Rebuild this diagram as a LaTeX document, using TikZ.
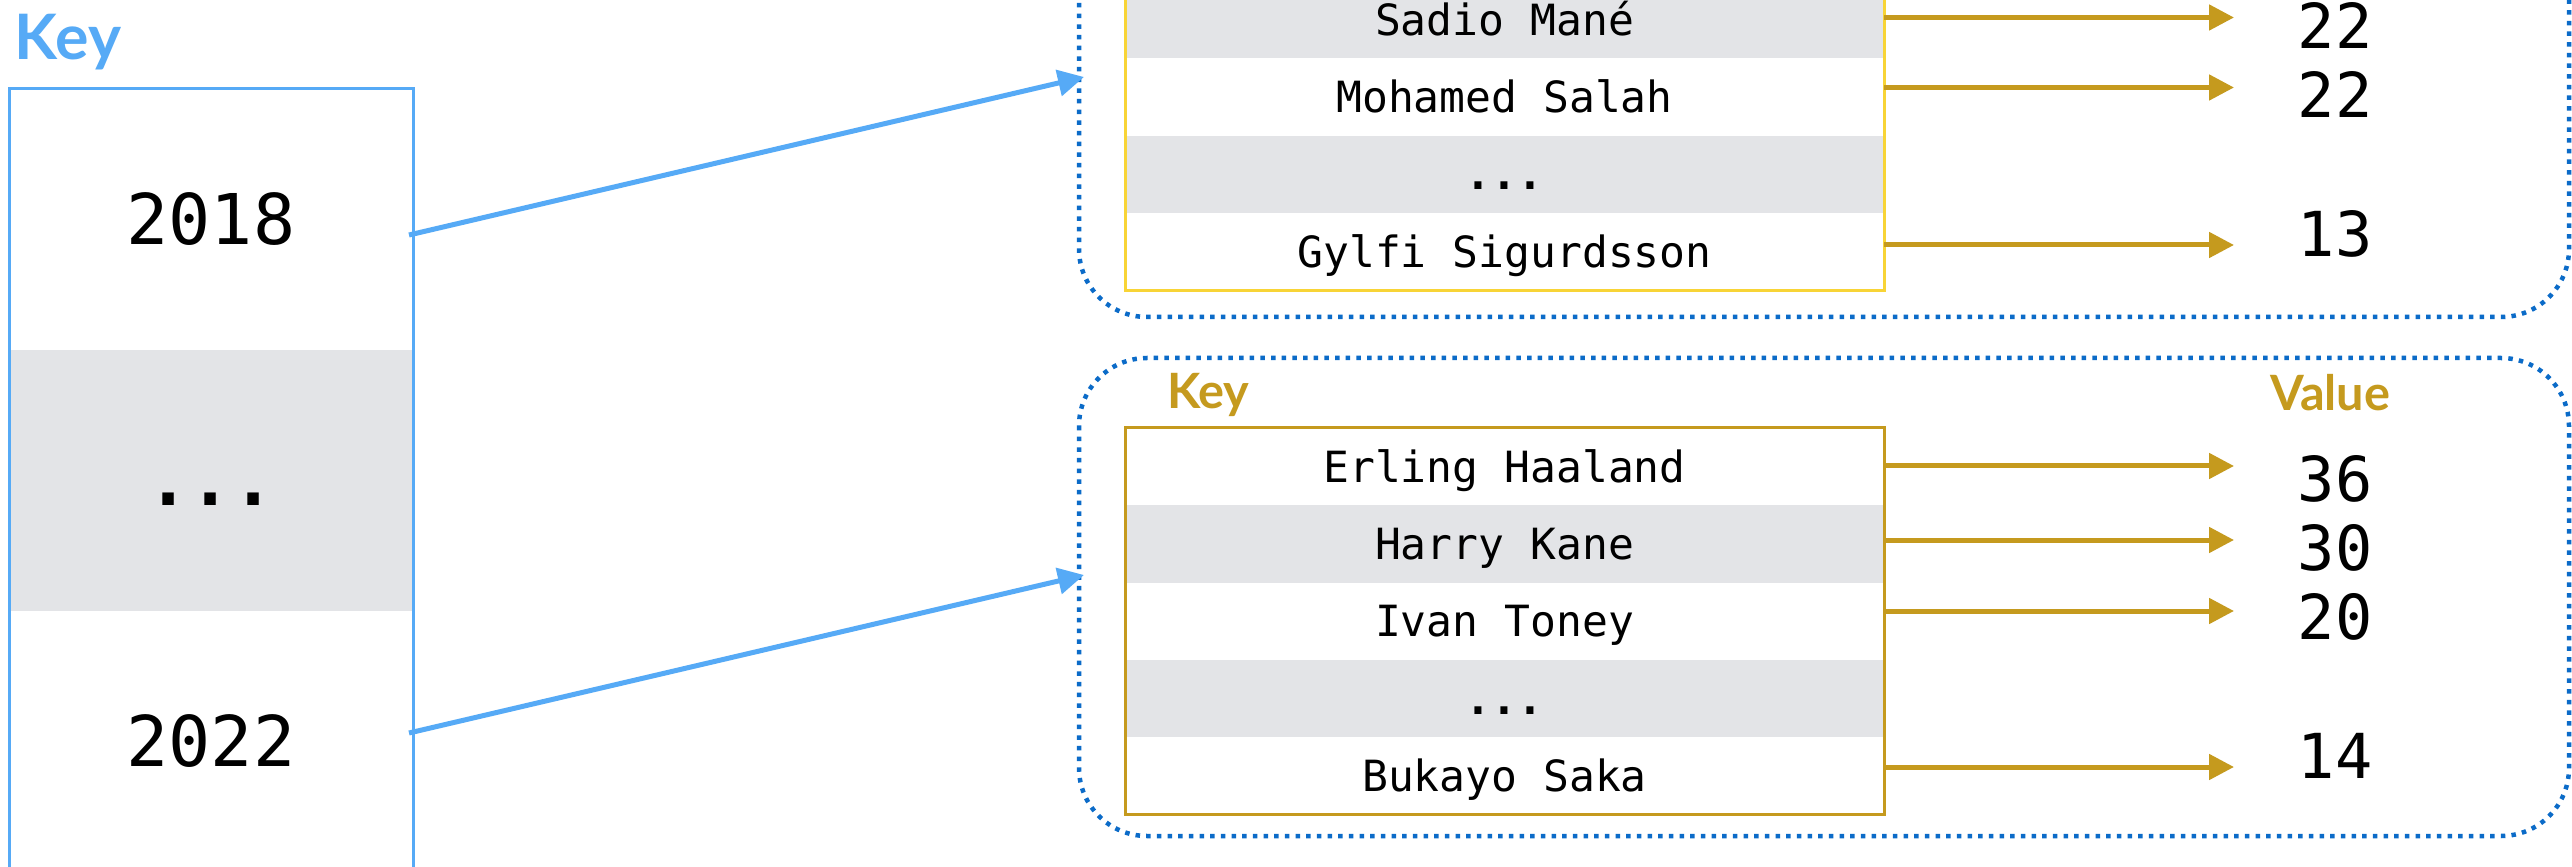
\documentclass[tikz,border=0pt]{standalone}
\usepackage{fontspec}
\setmonofont{DejaVu Sans Mono}
\newfontfamily\lato{Lato}
\usetikzlibrary{positioning,arrows.meta}
\definecolor{keyblue}{HTML}{56AAF6}
\definecolor{mapblue}{HTML}{0B6BC8}
\definecolor{gold}{HTML}{C59A1E}
\definecolor{lightgold}{HTML}{F8D436}
\definecolor{rowgray}{HTML}{E3E4E7}

\begin{document}
\begin{tikzpicture}[y=0.3pt, x=0.3pt, yscale=-1, inner sep=0pt, outer sep=0pt,
  yearcell/.style={minimum width=121.2pt, minimum height=78.3pt,
    font=\ttfamily\fontsize{21}{25}\selectfont, text height=15.3pt, text depth=0pt},
  namecell/.style={minimum width=227.7pt, minimum height=23.2pt,
    font=\ttfamily\fontsize{12.9}{15}\selectfont, text height=9.4pt, text depth=0pt},
  valnum/.style={font=\ttfamily\fontsize{18.6}{22}\selectfont},
  goldtitle/.style={anchor=base west, font=\lato\bfseries\fontsize{14.6}{17}\selectfont, text=gold},
  goldarrow/.style={draw=gold, line width=1.5pt, -{Triangle[length=7.5pt,width=7.5pt]}},
  keyarrow/.style={draw=keyblue, line width=1.5pt, -{Triangle[length=7.8pt,width=7.8pt]}},
  mapbox/.style={draw=mapblue, line width=1.35pt, dash pattern=on 1.35pt off 1.85pt,
    rounded corners=20.4pt}]
\useasboundingbox (0,0) rectangle (2572,867);
\fill[white] (0,0) rectangle (2572,867);
\clip (0,0) rectangle (2572,867);

% outer map: year -> inner map
\node[anchor=base west, font=\lato\bfseries\fontsize{18.8}{22}\selectfont, text=keyblue]
  (keytitle) at (15,60) {Key};
\node[yearcell, fill=white] (y18) at (211,219.5) {2018};
\node[yearcell, fill=rowgray, below=0pt of y18] (ydots) {\bfseries ...};
\node[yearcell, fill=white, below=0pt of ydots] (y22) {2022};
\path[draw=keyblue, line width=0.9pt] (y18.north west) rectangle (y22.south east);

% 2018 map
\path[mapbox] (1079,-161) rectangle (2569,317);
\node[namecell, fill=rowgray] (mane) at (1504.5,19.6) {Sadio Mané};
\node[namecell, fill=white, below=0pt of mane] (salah) {Mohamed Salah};
\node[namecell, fill=rowgray, below=0pt of salah] (dots18) {\bfseries ...};
\node[namecell, fill=white, below=0pt of dots18] (gylfi) {Gylfi Sigurdsson};
\path[draw=lightgold, line width=0.9pt] (mane.north west) rectangle (gylfi.south east);
\node[valnum] (v22a) at (2335,25.5) {22};
\node[valnum] (v22b) at (2335,94.5) {22};
\node[valnum] (v13) at (2335,233.5) {13};
\coordinate (t1) at (2234,17.5);
\coordinate (t2) at (2234,87.5);
\coordinate (t3) at (2234,245);
\path[goldarrow] (mane.east |- t1) -- (t1);
\path[goldarrow] (salah.east |- t2) -- (t2);
\path[goldarrow] (gylfi.east |- t3) -- (t3);

% 2022 map
\path[mapbox] (1079,358) rectangle (2569,836);
\node[goldtitle] (ktitle) at (1167,409) {Key};
\node[goldtitle] (vtitle) at (2270,411) {Value};
\node[namecell, fill=white] (haaland) at (1504.5,466.6) {Erling Haaland};
\node[namecell, fill=rowgray, below=0pt of haaland] (kane) {Harry Kane};
\node[namecell, fill=white, below=0pt of kane] (toney) {Ivan Toney};
\node[namecell, fill=rowgray, below=0pt of toney] (dots22) {\bfseries ...};
\node[namecell, fill=white, below=0pt of dots22] (saka) {Bukayo Saka};
\path[draw=gold, line width=0.9pt] (haaland.north west) rectangle (saka.south east);
\node[valnum] (v36) at (2335,478.5) {36};
\node[valnum] (v30) at (2335,547.5) {30};
\node[valnum] (v20) at (2335,617) {20};
\node[valnum] (v14) at (2335,756) {14};
\coordinate (t4) at (2234,466);
\coordinate (t5) at (2234,540);
\coordinate (t6) at (2234,611);
\coordinate (t7) at (2234,767);
\path[goldarrow] (haaland.east |- t4) -- (t4);
\path[goldarrow] (kane.east |- t5) -- (t5);
\path[goldarrow] (toney.east |- t6) -- (t6);
\path[goldarrow] (saka.east |- t7) -- (t7);

% year -> map
\coordinate (out18) at (409,235);
\coordinate (in18) at (1084,77);
\coordinate (out22) at (409,733);
\coordinate (in22) at (1084,575);
\path[keyarrow] (out18) -- (in18);
\path[keyarrow] (out22) -- (in22);
\end{tikzpicture}
\end{document}
